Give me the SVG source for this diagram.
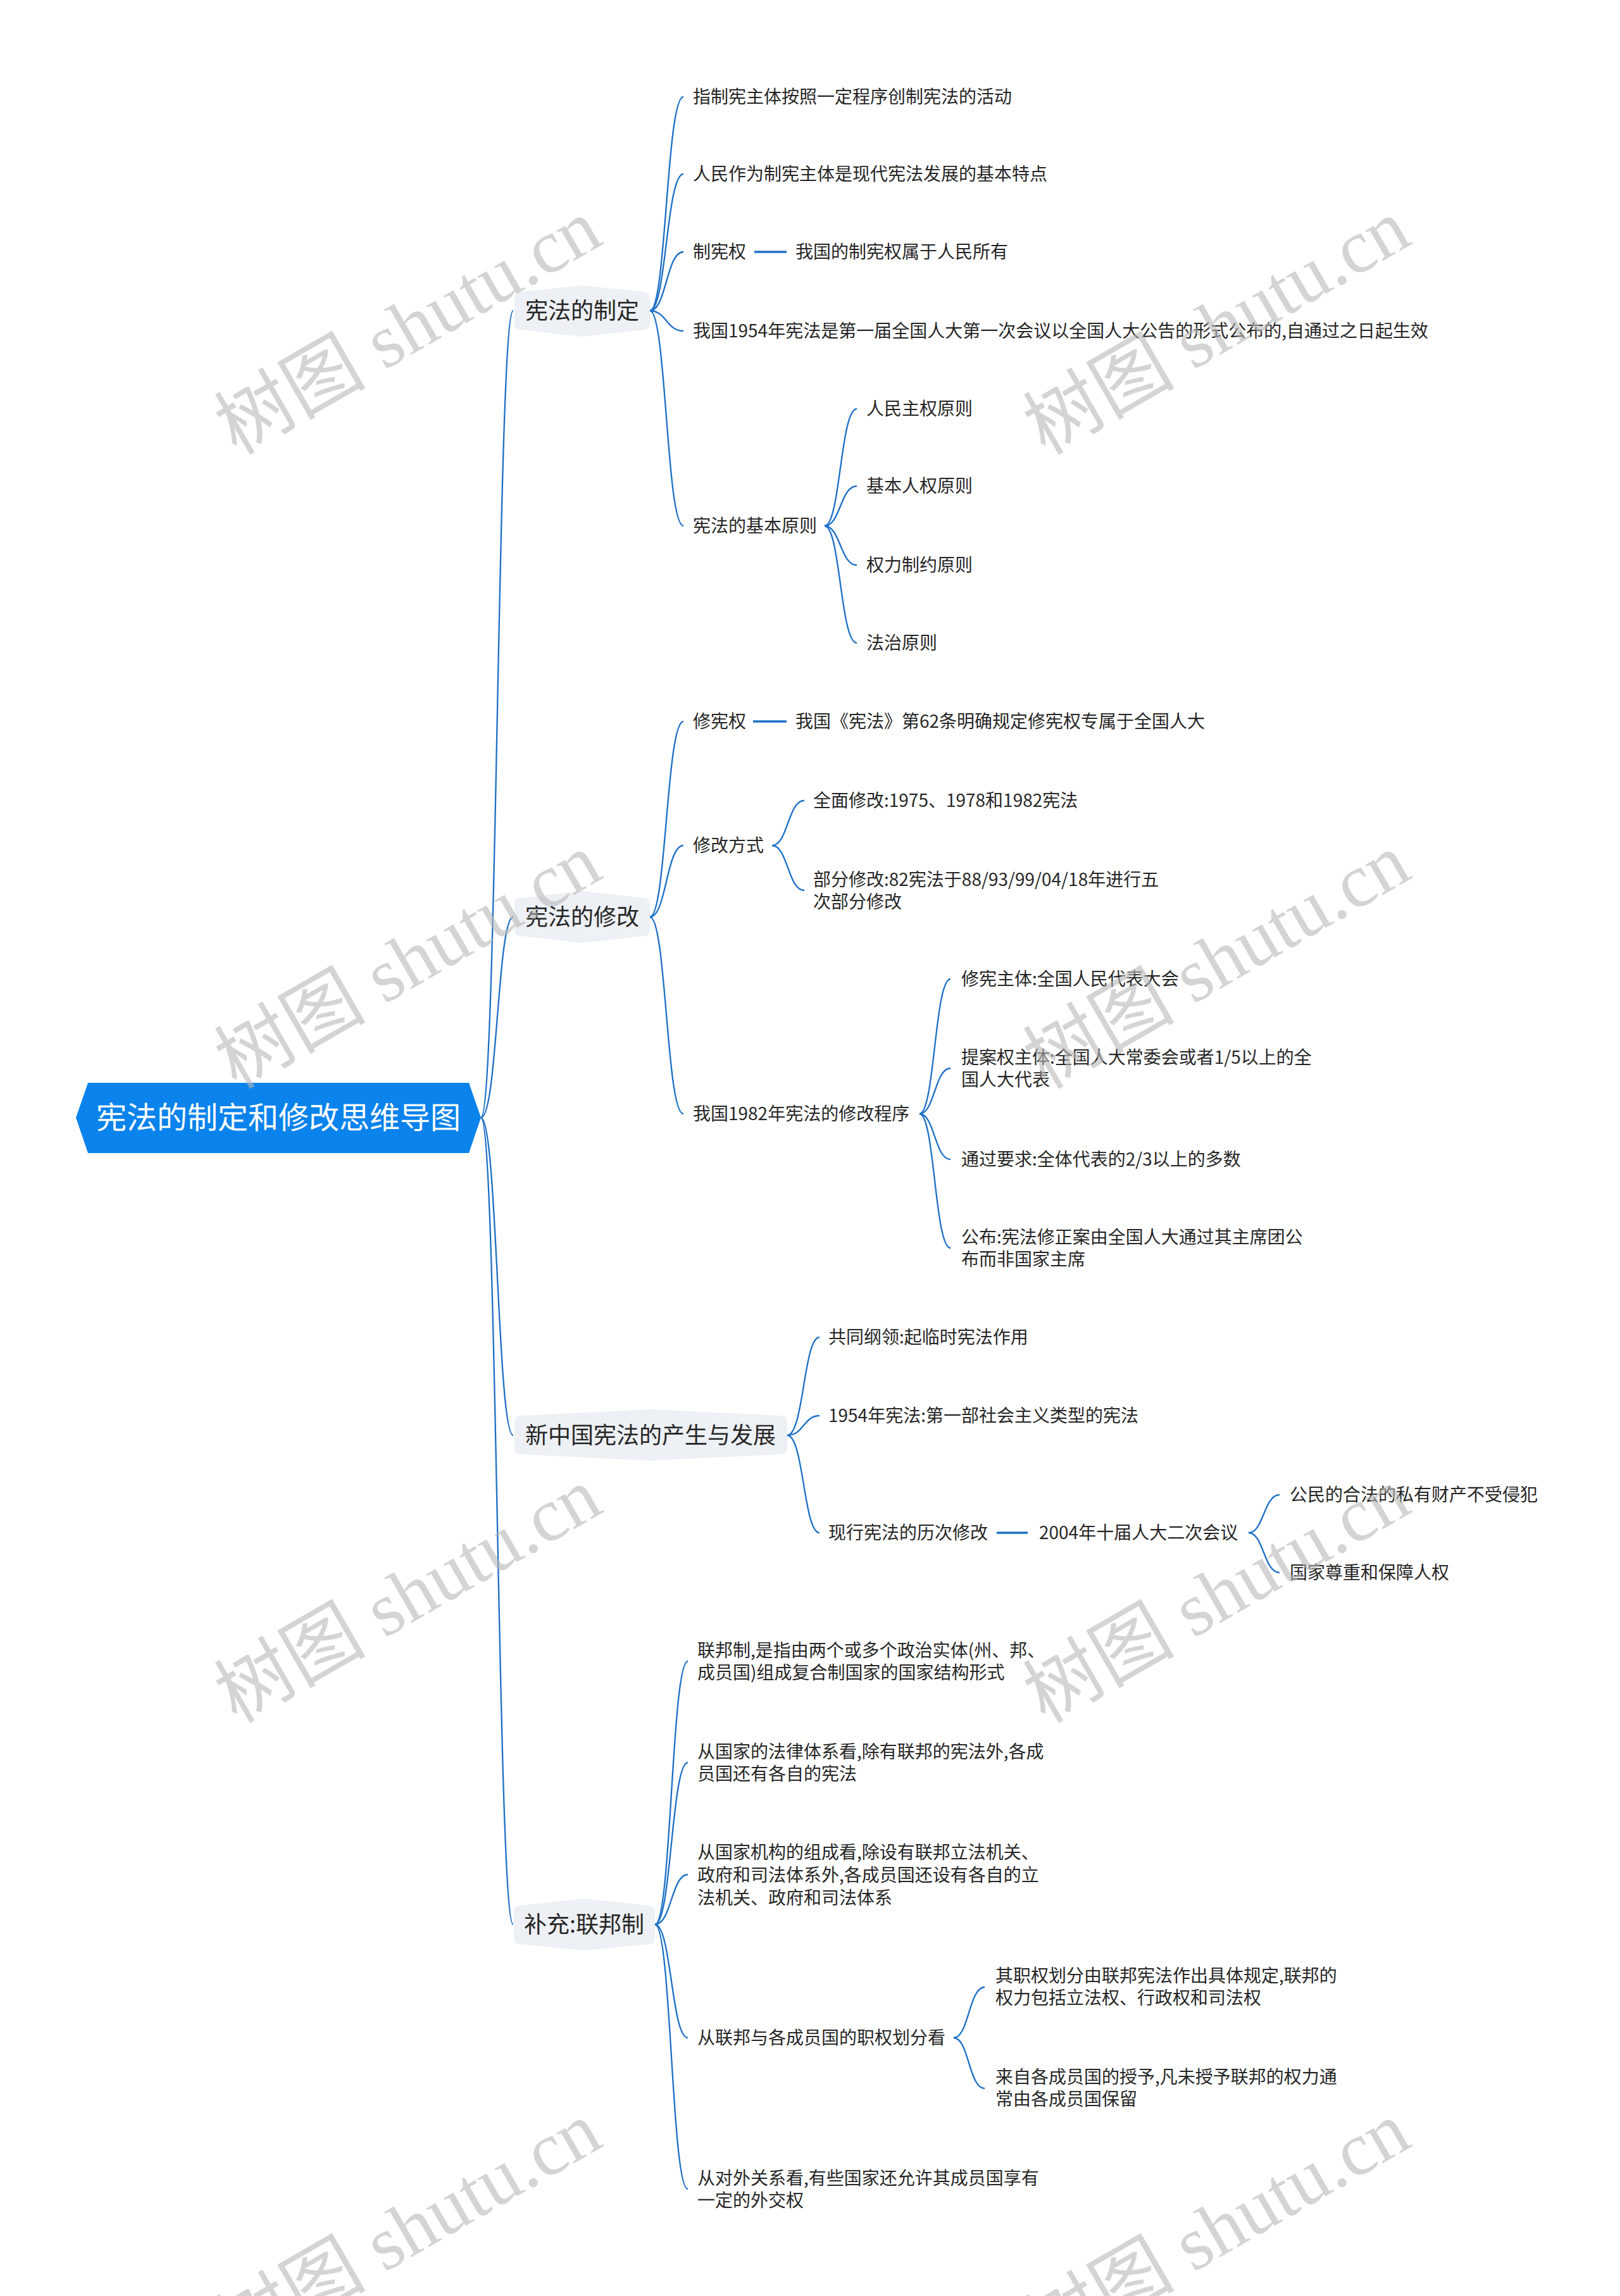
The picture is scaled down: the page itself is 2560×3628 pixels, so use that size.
<svg xmlns="http://www.w3.org/2000/svg" width="2560" height="3628" viewBox="0 0 2560 3628">
<style>
.t{font-family:"Noto Sans CJK SC","Noto Sans",sans-serif;font-size:28px;fill:#262626}
.l1{font-family:"Noto Sans CJK SC","Noto Sans",sans-serif;font-size:36px;fill:#262626;text-anchor:middle}
.rt{font-family:"Noto Sans CJK SC","Noto Sans",sans-serif;font-size:48px;fill:#ffffff;text-anchor:middle}
.c path{fill:none;stroke:#1c6fc6;stroke-width:2.3}
.c line{stroke:#1c6fc6;stroke-width:3.5}
.l1b{fill:#edf0f4}
.wm{font-family:"Liberation Serif","Noto Sans CJK SC",serif;font-size:120px;fill:#b8b8b8;fill-opacity:0.6;text-anchor:middle}
</style>
<rect width="2560" height="3628" fill="#ffffff"/>
<g id="connectors" class="c">
<path d="M760 1766 C786 1766 786 491 811 491"/>
<path d="M760 1766 C786 1766 786 1449 811 1449"/>
<path d="M760 1766 C786 1766 786 2268 811 2268"/>
<path d="M760 1766 C786 1766 786 3041 811 3041"/>
<path d="M1027 491 C1053 491 1053 153 1080 153"/>
<path d="M1027 491 C1053 491 1053 275 1080 275"/>
<path d="M1027 491 C1053 491 1053 398 1080 398"/>
<path d="M1027 491 C1053 491 1053 523 1080 523"/>
<path d="M1027 491 C1053 491 1053 831 1080 831"/>
<path d="M1303 831 C1328 831 1328 646 1354 646"/>
<path d="M1303 831 C1328 831 1328 768 1354 768"/>
<path d="M1303 831 C1328 831 1328 893 1354 893"/>
<path d="M1303 831 C1328 831 1328 1016 1354 1016"/>
<line x1="1192" y1="398" x2="1243" y2="398"/>
<path d="M1027 1449 C1053 1449 1053 1140 1080 1140"/>
<path d="M1027 1449 C1053 1449 1053 1336 1080 1336"/>
<path d="M1027 1449 C1053 1449 1053 1760 1080 1760"/>
<line x1="1190" y1="1140" x2="1243" y2="1140"/>
<path d="M1220 1336 C1245 1336 1245 1265 1271 1265"/>
<path d="M1220 1336 C1245 1336 1245 1407 1271 1407"/>
<path d="M1453 1760 C1477 1760 1477 1547 1502 1547"/>
<path d="M1453 1760 C1477 1760 1477 1688 1502 1688"/>
<path d="M1453 1760 C1477 1760 1477 1832 1502 1832"/>
<path d="M1453 1760 C1477 1760 1477 1972 1502 1972"/>
<path d="M1244 2268 C1270 2268 1270 2113 1295 2113"/>
<path d="M1244 2268 C1270 2268 1270 2237 1295 2237"/>
<path d="M1244 2268 C1270 2268 1270 2422 1295 2422"/>
<line x1="1575" y1="2422" x2="1624" y2="2422"/>
<path d="M1973 2422 C1997 2422 1997 2362 2022 2362"/>
<path d="M1973 2422 C1997 2422 1997 2485 2022 2485"/>
<path d="M1035 3041 C1061 3041 1061 2625 1087 2625"/>
<path d="M1035 3041 C1061 3041 1061 2785 1087 2785"/>
<path d="M1035 3041 C1061 3041 1061 2962 1087 2962"/>
<path d="M1035 3041 C1061 3041 1061 3220 1087 3220"/>
<path d="M1035 3041 C1061 3041 1061 3459 1087 3459"/>
<path d="M1507 3220 C1531 3220 1531 3140 1556 3140"/>
<path d="M1507 3220 C1531 3220 1531 3300 1556 3300"/>
</g>
<g id="root">
<polygon points="120,1766 139,1711 741,1711 760,1766 741,1822 139,1822" fill="#0a83ec"/>
<text class="rt" x="440" y="1783">宪法的制定和修改思维导图</text>
</g>
<g id="n1">
<path class="l1b" d="M823 461 L920 451 L1017 461 Q1027 461 1027 471 L1027 511 Q1027 521 1017 521 L920 532 L823 521 Q813 521 813 511 L813 471 Q813 461 823 461 Z"/>
<text class="l1" x="920" y="504">宪法的制定</text>
</g>
<g id="n2">
<path class="l1b" d="M823 1419 L920 1408 L1017 1419 Q1027 1419 1027 1429 L1027 1469 Q1027 1479 1017 1479 L920 1490 L823 1479 Q813 1479 813 1469 L813 1429 Q813 1419 823 1419 Z"/>
<text class="l1" x="920" y="1462">宪法的修改</text>
</g>
<g id="n3">
<path class="l1b" d="M823 2237 L1028 2227 L1234 2237 Q1244 2237 1244 2247 L1244 2288 Q1244 2298 1234 2298 L1028 2308 L823 2298 Q813 2298 813 2288 L813 2247 Q813 2237 823 2237 Z"/>
<text class="l1" x="1028" y="2281">新中国宪法的产生与发展</text>
</g>
<g id="n4">
<path class="l1b" d="M822 3011 L923 3000 L1025 3011 Q1035 3011 1035 3021 L1035 3062 Q1035 3072 1025 3072 L923 3082 L822 3072 Q812 3072 812 3062 L812 3021 Q812 3011 822 3011 Z"/>
<text class="l1" x="923" y="3054">补充:联邦制</text>
</g>
<g id="b1">
<text class="t" x="1095" y="163">指制宪主体按照一定程序创制宪法的活动</text>
<text class="t" x="1095" y="285">人民作为制宪主体是现代宪法发展的基本特点</text>
<text class="t" x="1095" y="408">制宪权</text>
<text class="t" x="1257" y="408">我国的制宪权属于人民所有</text>
<text class="t" x="1095" y="533">我国1954年宪法是第一届全国人大第一次会议以全国人大公告的形式公布的,自通过之日起生效</text>
<text class="t" x="1095" y="841">宪法的基本原则</text>
<text class="t" x="1369" y="656">人民主权原则</text>
<text class="t" x="1369" y="778">基本人权原则</text>
<text class="t" x="1369" y="903">权力制约原则</text>
<text class="t" x="1369" y="1026">法治原则</text>
</g>
<g id="b2">
<text class="t" x="1095" y="1150">修宪权</text>
<text class="t" x="1257" y="1150">我国《宪法》第62条明确规定修宪权专属于全国人大</text>
<text class="t" x="1095" y="1346">修改方式</text>
<text class="t" x="1285" y="1275">全面修改:1975、1978和1982宪法</text>
<text class="t" x="1285" y="1400">部分修改:82宪法于88/93/99/04/18年进行五</text>
<text class="t" x="1285" y="1435">次部分修改</text>
<text class="t" x="1095" y="1770">我国1982年宪法的修改程序</text>
<text class="t" x="1519" y="1557">修宪主体:全国人民代表大会</text>
<text class="t" x="1519" y="1681">提案权主体:全国人大常委会或者1/5以上的全</text>
<text class="t" x="1519" y="1716">国人大代表</text>
<text class="t" x="1519" y="1842">通过要求:全体代表的2/3以上的多数</text>
<text class="t" x="1519" y="1965">公布:宪法修正案由全国人大通过其主席团公</text>
<text class="t" x="1519" y="2000">布而非国家主席</text>
</g>
<g id="b3">
<text class="t" x="1309" y="2123">共同纲领:起临时宪法作用</text>
<text class="t" x="1309" y="2247">1954年宪法:第一部社会主义类型的宪法</text>
<text class="t" x="1309" y="2432">现行宪法的历次修改</text>
<text class="t" x="1642" y="2432">2004年十届人大二次会议</text>
<text class="t" x="2038" y="2372">公民的合法的私有财产不受侵犯</text>
<text class="t" x="2038" y="2495">国家尊重和保障人权</text>
</g>
<g id="b4">
<text class="t" x="1102" y="2618">联邦制,是指由两个或多个政治实体(州、邦、</text>
<text class="t" x="1102" y="2653">成员国)组成复合制国家的国家结构形式</text>
<text class="t" x="1102" y="2778">从国家的法律体系看,除有联邦的宪法外,各成</text>
<text class="t" x="1102" y="2813">员国还有各自的宪法</text>
<text class="t" x="1102" y="2937">从国家机构的组成看,除设有联邦立法机关、</text>
<text class="t" x="1102" y="2973">政府和司法体系外,各成员国还设有各自的立</text>
<text class="t" x="1102" y="3009">法机关、政府和司法体系</text>
<text class="t" x="1102" y="3230">从联邦与各成员国的职权划分看</text>
<text class="t" x="1573" y="3132">其职权划分由联邦宪法作出具体规定,联邦的</text>
<text class="t" x="1573" y="3167">权力包括立法权、行政权和司法权</text>
<text class="t" x="1573" y="3292">来自各成员国的授予,凡未授予联邦的权力通</text>
<text class="t" x="1573" y="3327">常由各成员国保留</text>
<text class="t" x="1102" y="3452">从对外关系看,有些国家还允许其成员国享有</text>
<text class="t" x="1102" y="3487">一定的外交权</text>
</g>
<g id="watermarks">
<text class="wm" transform="translate(665,552) rotate(-30)">树图 shutu.cn</text>
<text class="wm" transform="translate(1943,552) rotate(-30)">树图 shutu.cn</text>
<text class="wm" transform="translate(665,1554) rotate(-30)">树图 shutu.cn</text>
<text class="wm" transform="translate(1943,1554) rotate(-30)">树图 shutu.cn</text>
<text class="wm" transform="translate(665,2556) rotate(-30)">树图 shutu.cn</text>
<text class="wm" transform="translate(1943,2556) rotate(-30)">树图 shutu.cn</text>
<text class="wm" transform="translate(665,3558) rotate(-30)">树图 shutu.cn</text>
<text class="wm" transform="translate(1943,3558) rotate(-30)">树图 shutu.cn</text>
</g>
</svg>
